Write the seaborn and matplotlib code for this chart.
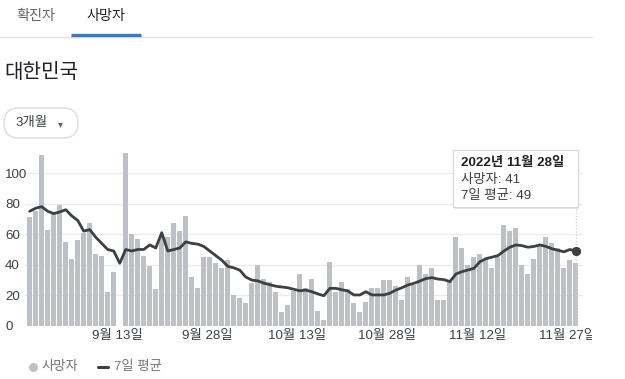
import numpy as np
import pandas as pd
import matplotlib
matplotlib.use("Agg")
import matplotlib.pyplot as plt
import seaborn as sns
from matplotlib.patches import FancyBboxPatch, Rectangle
from matplotlib.lines import Line2D
from matplotlib.transforms import Bbox, TransformedBbox, IdentityTransform

# ---------------- data ----------------
start_date = "2022-08-29"
deaths = [71, 75, 112, 63, 73, 79, 55, 44, 56, 61, 67, 47, 46, 22, 35, 0,
          113, 60, 57, 46, 39, 24, 58, 58, 67, 62, 72, 32, 25, 45, 45, 41,
          38, 43, 20, 18, 15, 28, 40, 31, 29, 22, 9, 14, 23, 34, 25, 31,
          10, 4, 42, 22, 29, 24, 15, 9, 16, 25, 25, 30, 30, 26, 17, 32,
          27, 40, 34, 38, 17, 17, 29, 58, 51, 40, 45, 47, 44, 38, 45, 66,
          62, 64, 40, 34, 44, 52, 58, 54, 51, 38, 43, 41]
avg7 = [75, 77, 78, 75, 73.5, 74.5, 76, 72, 69, 62, 63, 58, 54, 50, 49, 41,
        50, 49, 50, 50, 53, 51, 61, 49, 50, 51, 55, 54, 53.5, 52, 49, 46,
        43, 39, 38, 36.5, 32, 30, 29.5, 28, 27, 26, 25.5, 25, 24, 23, 23.5, 22.4,
        21, 19.8, 24.6, 24.6, 23.7, 22.9, 20.3, 20.3, 22.4, 20.3, 20.3, 20.3, 21.4, 23.5,
        25, 26.8, 27.9, 29.4, 31, 31.6, 30.7, 30.3, 29, 34, 35.5, 36.6, 37.7, 42,
        44, 45, 46, 49, 51.5, 53, 52.5, 51.5, 52, 53, 52, 50.5, 49.5, 48.5, 50, 49]
tick_dates = ["2022-09-13", "2022-09-28", "2022-10-13", "2022-10-28", "2022-11-12", "2022-11-27"]
tick_labels = ["9월 13일", "9월 28일", "10월 13일", "10월 28일", "11월 12일", "11월 27일"]
y_ticks = [0, 20, 40, 60, 80, 100]
tabs = ["확진자", "사망자"]
region = "대한민국"
period = "3개월"
series_names = ["사망자", "7일 평균"]
tooltip_title = "2022년 11월 28일"

dates = pd.date_range(start_date, periods=len(deaths), freq="D")
df = pd.DataFrame({"date": dates, "pos": np.arange(len(deaths)),
                   "deaths": deaths, "avg": avg7})

# ---------------- style ----------------
sns.set_style("white")
FAM = ["Liberation Sans", "Noto Sans CJK KR", "DejaVu Sans"]
plt.rcParams["font.family"] = FAM

BAR = "#bdc1c6"
LINE = "#3c4043"
TXT = "#3c4043"
GRID = "#ebebeb"

W, H = 625, 379
fig = plt.figure(figsize=(W / 100, H / 100), dpi=100)

def fx(px):
    return px / W

def fy(py):
    return 1 - py / H

ax_left, ax_right, ax_top, ax_bot = 25, 583, 150, 326
ax = fig.add_axes([fx(ax_left), fy(ax_bot), fx(ax_right - ax_left), (ax_bot - ax_top) / H])

sns.barplot(data=df, x="pos", y="deaths", native_scale=True, color=BAR,
            saturation=1, width=1.0, errorbar=None, ax=ax, zorder=2,
            linewidth=0)
# ensure bar width ~5px of 6px pitch
for p in ax.patches:
    cx = p.get_x() + p.get_width() / 2
    p.set_width(0.84)
    p.set_x(cx - 0.42)
sns.lineplot(data=df, x="pos", y="avg", color=LINE, linewidth=2.0, ax=ax, zorder=4)

# hover highlight
last = len(deaths) - 1
ax.axvline(last, color="#d0d0d0", linestyle=(0, (1, 1.5)), linewidth=0.9, zorder=3)
ax.plot([df["pos"].iloc[-1]], [df["avg"].iloc[-1]], "o", color=LINE,
        markersize=5.6, zorder=5, clip_on=False)

px_per_unit = 6.003
x0 = 29.7
ax.set_xlim((ax_left - x0) / px_per_unit, (ax_right - x0) / px_per_unit)
ax.set_ylim(0, (ax_bot - ax_top) / 1.53)

# grid
ax.set_yticks(y_ticks)
ax.yaxis.grid(True, color=GRID, linewidth=1)
ax.xaxis.grid(False)
for s in ax.spines.values():
    s.set_visible(False)
ax.set_axisbelow(True)

ax.set_yticklabels([str(v) for v in y_ticks])
ax.tick_params(axis="y", length=0, pad=14.4, labelsize=9.6, labelcolor=TXT)
for lab in ax.get_yticklabels():
    lab.set_horizontalalignment("left")

tick_pos = [int(df.index[df["date"] == pd.Timestamp(d)][0]) - 0.4 for d in tick_dates]
ax.set_xticks(tick_pos)
ax.set_xticklabels(tick_labels)
ax.tick_params(axis="x", length=0, pad=3, labelsize=9.6, labelcolor=TXT)
clip = TransformedBbox(Bbox([[0, 0], [592 / W, 1]]), fig.transFigure)
for lab in ax.get_xticklabels():
    lab.set_clip_box(clip)
    lab.set_clip_on(True)
ax.set_xlabel("")
ax.set_ylabel("")
if ax.get_legend():
    ax.get_legend().remove()

# ---------------- header ----------------
fig.add_artist(Line2D([0, fx(592)], [fy(37), fy(37)], color="#e3e3e3", linewidth=1))
fig.add_artist(Line2D([fx(71), fx(141)], [fy(35), fy(35)], color="#3b78c6", linewidth=2.4,
                      solid_capstyle="butt"))
fig.text(fx(36), fy(16), tabs[0], ha="center", va="center", fontsize=10.2, color="#5f6368")
fig.text(fx(106), fy(16), tabs[1], ha="center", va="center", fontsize=10.2, color="#202124")
fig.text(fx(4), fy(72), region, ha="left", va="center", fontsize=14.5, color="#202124")

# pill in pixel coordinates (origin bottom-left)
pill = FancyBboxPatch((4, H - 138), 74, 30,
                      boxstyle="round,pad=0,rounding_size=15",
                      transform=IdentityTransform(), facecolor="white",
                      edgecolor="#dadce0", linewidth=1)
fig.add_artist(pill)
fig.text(fx(15), fy(123), period, ha="left", va="center", fontsize=9.6, color="#3c4043")
fig.text(fx(60), fy(124), "▾", ha="center", va="center", fontsize=7, color="#5f6368",
         family=["DejaVu Sans"])

# ---------------- tooltip ----------------
shadow = Rectangle((fx(454), fy(209)), fx(125), (209 - 151) / H, transform=fig.transFigure,
                   facecolor="#e6e6e6", edgecolor="none", zorder=9)
fig.add_artist(shadow)
box = Rectangle((fx(453), fy(207)), fx(125), (207 - 150) / H, transform=fig.transFigure,
                facecolor="white", edgecolor="#d6d6d6", linewidth=0.8, zorder=10)
fig.add_artist(box)
fig.text(fx(461), fy(163), tooltip_title, ha="left", va="center", fontsize=9.6,
         fontweight="bold", color="#202124", zorder=11)
fig.text(fx(461), fy(180), f"{series_names[0]}: {deaths[-1]}", ha="left", va="center",
         fontsize=9.6, color="#3c4043", zorder=11)
fig.text(fx(461), fy(196), f"{series_names[1]}: {int(round(avg7[-1]))}", ha="left", va="center",
         fontsize=9.6, color="#3c4043", zorder=11)

# ---------------- legend ----------------
fig.add_artist(Line2D([fx(33)], [fy(367)], marker="o", markersize=5.5, color="#bdc1c6",
                      linestyle="none"))
fig.text(fx(41), fy(367), series_names[0], ha="left", va="center", fontsize=9.6, color="#70757a")
fig.add_artist(Line2D([fx(98), fx(108)], [fy(367), fy(367)], color=LINE, linewidth=2.2))
fig.text(fx(114), fy(367), series_names[1], ha="left", va="center", fontsize=9.6, color="#70757a")

fig.savefig("out.png", dpi=100, facecolor="white")
